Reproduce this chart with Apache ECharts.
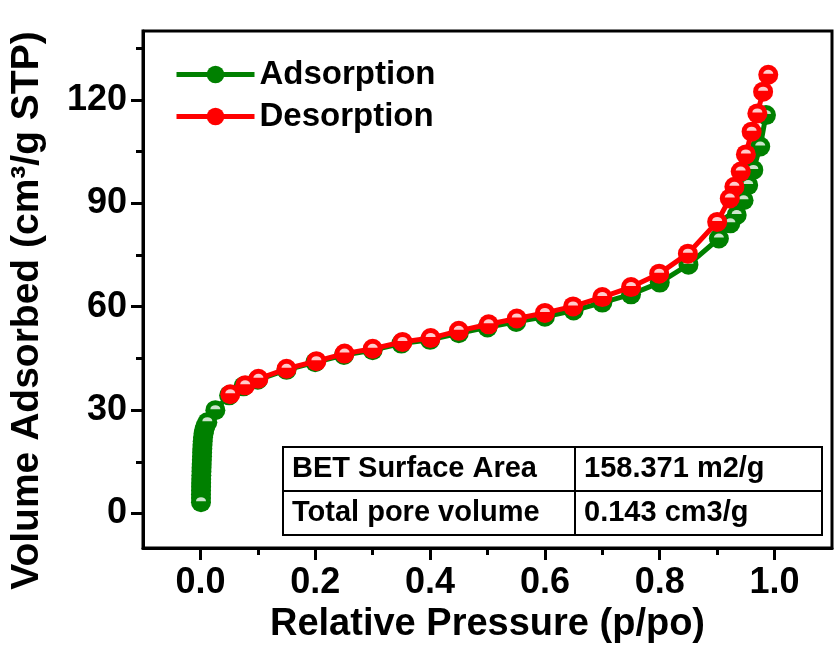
<!DOCTYPE html>
<html><head><meta charset="utf-8">
<script src="https://cdn.jsdelivr.net/npm/echarts/dist/echarts.min.js"></script>
<style>html,body{margin:0;padding:0;background:#fff}#c{width:835px;height:651px}</style>
</head><body><div id="c"></div>
<script>
// ---- data ----
const seriesNames = ['Adsorption', 'Desorption'];
const adsorption = [
  [0.001, 3.3], [0.001, 4.5], [0.001, 5.6], [0.0011, 6.7], [0.0012, 7.8], [0.0013, 8.9],
  [0.0014, 10.0], [0.0016, 11.1], [0.0018, 12.2], [0.002, 13.3], [0.0022, 14.4], [0.0025, 15.5],
  [0.0028, 16.6], [0.003, 17.7], [0.0033, 18.8], [0.0036, 19.9], [0.004, 21.0], [0.0045, 22.1],
  [0.0055, 23.2], [0.0068, 24.3], [0.0085, 25.3], [0.012, 26.5], [0.026, 30.0],
  [0.05, 34.3], [0.075, 36.9], [0.1, 38.8], [0.15, 41.7],
  [0.2, 43.9], [0.25, 46.0], [0.3, 47.4], [0.35, 49.3], [0.4, 50.4], [0.45, 52.3],
  [0.5, 54.0], [0.55, 55.6], [0.6, 57.1], [0.65, 58.9], [0.7, 61.2], [0.75, 63.6],
  [0.8, 67.0], [0.85, 72.2], [0.903, 79.8], [0.923, 84.2], [0.934, 86.6], [0.946, 90.9],
  [0.954, 95.3], [0.963, 99.7], [0.975, 106.5], [0.985, 115.6]
];
const desorption = [
  [0.989, 127.3], [0.980, 122.4], [0.970, 116.1], [0.960, 110.8], [0.950, 104.2], [0.941, 99.2],
  [0.930, 94.8], [0.922, 91.4], [0.900, 84.6], [0.849, 75.4], [0.799, 69.6], [0.750, 65.7],
  [0.700, 62.8], [0.649, 60.1], [0.600, 58.2], [0.551, 56.6], [0.502, 54.9], [0.450, 53.0],
  [0.401, 50.9], [0.352, 49.8], [0.300, 47.8], [0.251, 46.4], [0.202, 44.2], [0.150, 42.0],
  [0.101, 39.1], [0.078, 37.2], [0.052, 34.6]
];
const xTicks = [0, 0.2, 0.4, 0.6, 0.8, 1.0];
const xMinorTicks = [0.1, 0.3, 0.5, 0.7, 0.9];
const yTicks = [0, 30, 60, 90, 120];
const yMinorTicks = [15, 45, 75, 105, 135];
const xTitle = 'Relative Pressure (p/po)';
const yTitle = 'Volume Adsorbed (cm³/g STP)';
const tableRows = [['BET Surface Area', '158.371 m2/g'], ['Total pore volume', '0.143 cm3/g']];

// ---- chart ----
const FONT = '"Liberation Sans", Arial, Helvetica, sans-serif';
const HL = 'path://M0,10A10,10,0,0,1,20,10Z';
const colors = ['#008000', '#ff0000'];
const chart = echarts.init(document.getElementById('c'), null, {renderer: 'canvas'});

function tickStyle(len) { return {show: true, inside: false, length: len, lineStyle: {color: '#000', width: 3}}; }
const txt = (size) => ({fontFamily: FONT, fontWeight: 'bold', fontSize: size, color: '#000'});

// highlights are hidden where the next ball sits right on top (dense low-pressure column)
function visibleHighlights(d) {
  return d.filter((p, i) => i === 0 || i === d.length - 1 || Math.abs(d[i + 1][1] - p[1]) > 2 || Math.abs(d[i + 1][0] - p[0]) > 0.01);
}

const series = [];
[adsorption, desorption].forEach((d, i) => {
  series.push({
    name: seriesNames[i], type: 'line', data: d, symbol: 'circle', symbolSize: 20,
    lineStyle: {color: colors[i], width: 5}, itemStyle: {color: colors[i]}, z: 2 + i * 2
  });
  series.push({
    name: seriesNames[i] + '_hl', type: 'scatter', data: visibleHighlights(d), symbol: HL, symbolSize: [10, 4],
    symbolOffset: [0, -3], itemStyle: {color: '#fff'}, silent: true, z: 3 + i * 2
  });
});

// table graphic
const T = {x: 283, y: 447, w: 539, rowH: 44, colX: 575};
const graphic = [
  {type: 'rect', shape: {x: T.x, y: T.y, width: T.w, height: T.rowH * 2}, style: {fill: '#fff', stroke: '#000', lineWidth: 2}, z: 10},
  {type: 'line', shape: {x1: T.x, y1: T.y + T.rowH, x2: T.x + T.w, y2: T.y + T.rowH}, style: {stroke: '#000', lineWidth: 2}, z: 11},
  {type: 'line', shape: {x1: T.colX, y1: T.y, x2: T.colX, y2: T.y + T.rowH * 2}, style: {stroke: '#000', lineWidth: 2}, z: 11}
];
tableRows.forEach((r, i) => {
  graphic.push({type: 'text', x: T.x + 9, y: T.y + T.rowH * (i + 0.5), z: 12,
    style: {text: r[0], font: 'bold 29px ' + FONT, fill: '#000', verticalAlign: 'middle'}});
  graphic.push({type: 'text', x: T.colX + 9, y: T.y + T.rowH * (i + 0.5), z: 12,
    style: {text: r[1], font: 'bold 29px ' + FONT, fill: '#000', verticalAlign: 'middle'}});
});

const option = {
  animation: false,
  backgroundColor: '#fff',
  grid: {left: 143, right: 3, top: 31, bottom: 103, show: true, borderColor: '#000', borderWidth: 3, backgroundColor: 'transparent'},
  legend: {
    data: seriesNames, orient: 'vertical', left: 169, top: 53, itemWidth: 78, itemHeight: 22, itemGap: 9,
    lineStyle: {width: 5},
    textStyle: Object.assign(txt(33), {lineHeight: 33})
  },
  xAxis: [
    {type: 'value', min: -0.1, max: 1.1, position: 'bottom',
      axisLine: {show: true, onZero: false, lineStyle: {color: '#000', width: 3}},
      splitLine: {show: false},
      axisTick: Object.assign(tickStyle(12), {customValues: xTicks}),
      axisLabel: Object.assign(txt(36), {customValues: xTicks, formatter: v => v.toFixed(1), margin: 17}),
      name: xTitle, nameLocation: 'middle', nameGap: 55, nameTextStyle: txt(38)},
    {type: 'value', min: -0.1, max: 1.1, position: 'bottom',
      axisLine: {show: false, onZero: false}, splitLine: {show: false},
      axisTick: Object.assign(tickStyle(7), {customValues: xMinorTicks}),
      axisLabel: {show: false}}
  ],
  yAxis: [
    {type: 'value', min: -10, max: 140, position: 'left',
      axisLine: {show: true, onZero: false, lineStyle: {color: '#000', width: 3}},
      splitLine: {show: false},
      axisTick: Object.assign(tickStyle(12), {customValues: yTicks}),
      axisLabel: Object.assign(txt(36), {customValues: yTicks, margin: 16}),
      name: yTitle, nameLocation: 'middle', nameRotate: 90, nameGap: 96,
      nameTextStyle: Object.assign(txt(39), {padding: [0, 42, 0, 0]})},
    {type: 'value', min: -10, max: 140, position: 'left',
      axisLine: {show: false, onZero: false}, splitLine: {show: false},
      axisTick: Object.assign(tickStyle(7), {customValues: yMinorTicks}),
      axisLabel: {show: false}}
  ],
  series: series,
  graphic: graphic
};
chart.setOption(option);
</script>
</body></html>
